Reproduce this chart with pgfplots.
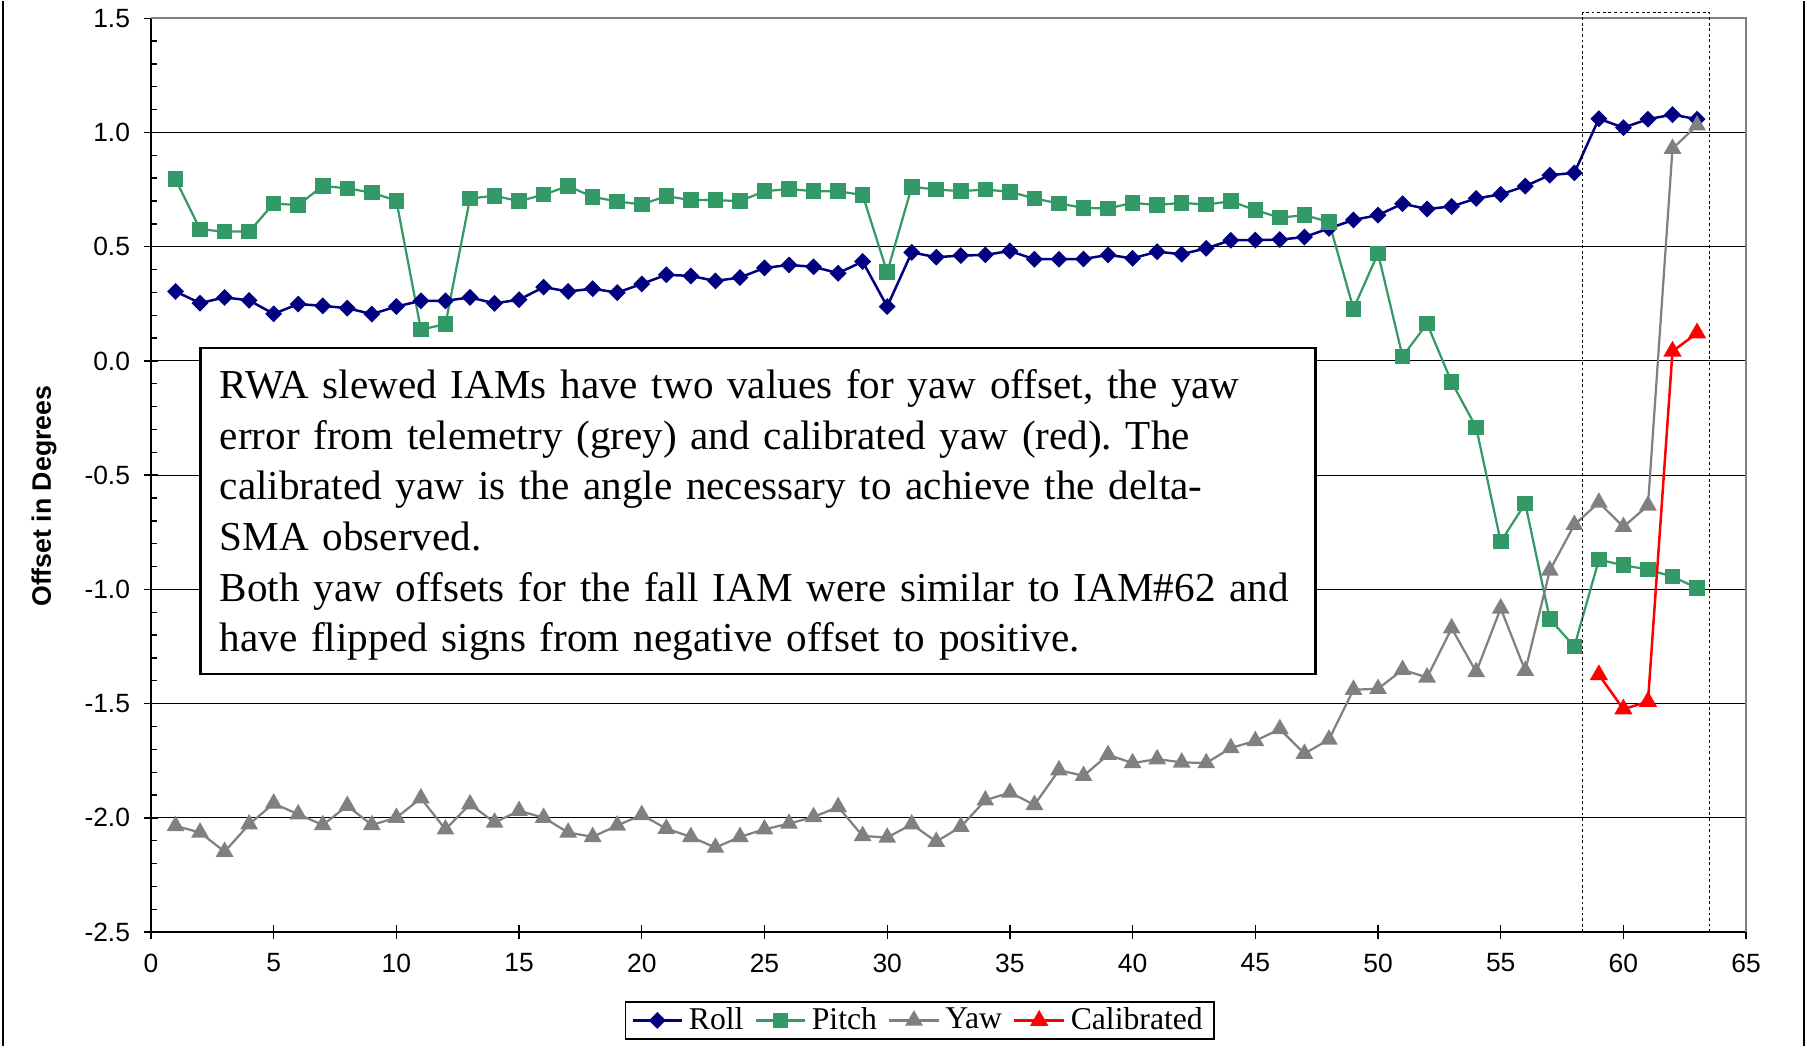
\documentclass[border=0pt]{standalone}
\usepackage{pgfplots}
\pgfplotsset{compat=1.18}
\usepackage{fontspec}
\setmainfont{Liberation Sans}
\newfontfamily\timesfont{Liberation Serif}
\definecolor{rollc}{RGB}{0,0,128}
\definecolor{pitchc}{RGB}{51,153,102}
\definecolor{yawc}{RGB}{128,128,128}
\definecolor{calc}{RGB}{255,0,0}

\pgfplotstableread{
x y
1 0.304
2 0.253
3 0.278
4 0.265
5 0.206
6 0.249
7 0.241
8 0.231
9 0.205
10 0.238
11 0.263
12 0.263
13 0.278
14 0.252
15 0.268
16 0.323
17 0.304
18 0.316
19 0.299
20 0.337
21 0.377
22 0.372
23 0.350
24 0.365
25 0.407
26 0.420
27 0.412
28 0.384
29 0.435
30 0.238
31 0.475
32 0.454
33 0.461
34 0.464
35 0.481
36 0.445
37 0.445
38 0.446
39 0.464
40 0.449
41 0.478
42 0.467
43 0.493
44 0.528
45 0.529
46 0.531
47 0.542
48 0.580
49 0.617
50 0.638
51 0.688
52 0.665
53 0.676
54 0.711
55 0.729
56 0.765
57 0.813
58 0.823
59 1.060
60 1.021
61 1.058
62 1.078
63 1.058
}\rolltab

\pgfplotstableread{
x y
1 0.795
2 0.576
3 0.566
4 0.566
5 0.689
6 0.682
7 0.766
8 0.755
9 0.737
10 0.701
11 0.137
12 0.161
13 0.711
14 0.723
15 0.699
16 0.728
17 0.765
18 0.718
19 0.698
20 0.685
21 0.721
22 0.704
23 0.704
24 0.699
25 0.743
26 0.752
27 0.743
28 0.743
29 0.726
30 0.388
31 0.762
32 0.750
33 0.743
34 0.750
35 0.740
36 0.711
37 0.689
38 0.670
39 0.667
40 0.692
41 0.682
42 0.692
43 0.684
44 0.699
45 0.660
46 0.627
47 0.638
48 0.609
49 0.228
50 0.471
51 0.020
52 0.163
53 -0.093
54 -0.291
55 -0.791
56 -0.624
57 -1.130
58 -1.250
59 -0.870
60 -0.894
61 -0.913
62 -0.944
63 -0.994
}\pitchtab

\pgfplotstableread{
x y
1 -2.035
2 -2.064
3 -2.148
4 -2.028
5 -1.937
6 -1.984
7 -2.031
8 -1.947
9 -2.031
10 -1.999
11 -1.914
12 -2.050
13 -1.940
14 -2.020
15 -1.969
16 -1.999
17 -2.064
18 -2.083
19 -2.033
20 -1.987
21 -2.047
22 -2.083
23 -2.130
24 -2.083
25 -2.050
26 -2.025
27 -1.996
28 -1.952
29 -2.079
30 -2.086
31 -2.028
32 -2.104
33 -2.039
34 -1.923
35 -1.889
36 -1.943
37 -1.791
38 -1.816
39 -1.724
40 -1.760
41 -1.743
42 -1.757
43 -1.760
44 -1.694
45 -1.663
46 -1.611
47 -1.719
48 -1.657
49 -1.439
50 -1.435
51 -1.352
52 -1.385
53 -1.170
54 -1.361
55 -1.083
56 -1.356
57 -0.917
58 -0.717
59 -0.620
60 -0.726
61 -0.633
62 0.929
63 1.031
}\yawtab

\pgfplotstableread{
x y
59 -1.374
60 -1.524
61 -1.491
62 0.042
63 0.122
}\caltab

\begin{document}
\frenchspacing
\begin{tikzpicture}
\begin{axis}[
  name=main,
  scale only axis, width=573.7pt, height=328.7pt,
  xmin=0, xmax=65, ymin=-2.5, ymax=1.5,
  clip=false,
  axis x line*=bottom, axis y line*=left,
  axis line style={black, line width=0.6pt},
  xtick={0,5,10,15,20,25,30,35,40,45,50,55,60,65},
  xticklabels={0,5,10,15,20,25,30,35,40,45,50,55,60,65},
  ytick={-2.5,-2,-1.5,-1,-0.5,0,0.5,1,1.5},
  yticklabels={-2.5,-2.0,-1.5,-1.0,-0.5,0.0,0.5,1.0,1.5},
  minor y tick num=4,
  ymajorgrids,
  major grid style={black, line width=0.4pt},
  tick align=center,
  major tick length=5pt,
  minor tick length=2.2pt,
  minor y tick style={xshift=1.1pt},
  tick style={black, line width=0.5pt},
  ticklabel style={font=\fontsize{9.5}{11}\selectfont},
  yticklabel style={xshift=-1.5pt},
  xticklabel style={yshift=-1.7pt},
  ylabel={Offset in Degrees},
  ylabel style={font=\fontsize{9.6}{11}\selectfont\bfseries, at={(axis description cs:-0.067,0.477)}, anchor=center, rotate=0},
  legend style={at={(0.482,-0.0755)}, anchor=north, legend columns=4,
    font=\timesfont\fontsize{11.4}{12}\selectfont, draw=black, line width=0.5pt,
    inner xsep=2pt, inner ysep=0pt,
    /tikz/every even column/.append style={column sep=2pt}},
  legend cell align=left,
  legend image code/.code={\draw[#1, mark repeat=2, mark phase=2] plot coordinates {(0pt,0pt) (8.9pt,0pt) (17.8pt,0pt)};},
]
\addplot[color=rollc, line width=0.9pt, mark=square*, mark size=1.7pt, mark options={rotate=45, solid}] table[x=x,y=y] {\rolltab};
\addlegendentry{Roll}
\addplot[color=pitchc, line width=0.8pt, mark=square*, mark size=2.4pt, mark options={solid}] table[x=x,y=y] {\pitchtab};
\addlegendentry{Pitch}
\addplot[color=yawc, line width=0.8pt, mark=triangle*, mark size=2.9pt, mark options={solid}] table[x=x,y=y] {\yawtab};
\addlegendentry{Yaw}
\addplot[color=calc, line width=0.9pt, mark=triangle*, mark size=2.9pt, mark options={solid}] table[x=x,y=y] {\caltab};
\addlegendentry{Calibrated}

\draw[yawc, line width=0.9pt] (rel axis cs:0,1) -- (rel axis cs:1,1) -- (rel axis cs:1,0);
\draw[black, line width=0.5pt, dash pattern=on 1pt off 1pt] (axis cs:58.34,-2.5) rectangle (axis cs:63.5,1.525);

\node[draw=black, line width=0.8pt, fill=white, anchor=north west, inner xsep=7pt, inner ysep=4.85pt,
  text width=387pt, align=left, font=\timesfont\fontsize{14.8}{18.2}\selectfont]
  at (axis cs:1.97,0.062) {\rule{0pt}{13.4pt}RWA slewed IAMs have two values for yaw offset, the yaw\\
error from telemetry (grey) and calibrated yaw (red). The\\
calibrated yaw is the angle necessary to achieve the delta-\\
SMA observed.\\
Both yaw offsets for the fall IAM were similar to IAM\#62 and\\
have flipped signs from negative offset to positive.};
\end{axis}
\pgfresetboundingbox
\path ([xshift=-54.3pt,yshift=-41pt]main.south west) rectangle ([xshift=21.9pt,yshift=6.2pt]main.north east);
\draw[black, line width=0.7pt] ([xshift=-53.15pt,yshift=-41pt]main.south west) -- ([xshift=-53.15pt,yshift=6.2pt]main.north west);
\draw[black, line width=0.7pt] ([xshift=20.8pt,yshift=-41pt]main.south east) -- ([xshift=20.8pt,yshift=6.2pt]main.north east);
\end{tikzpicture}
\end{document}
